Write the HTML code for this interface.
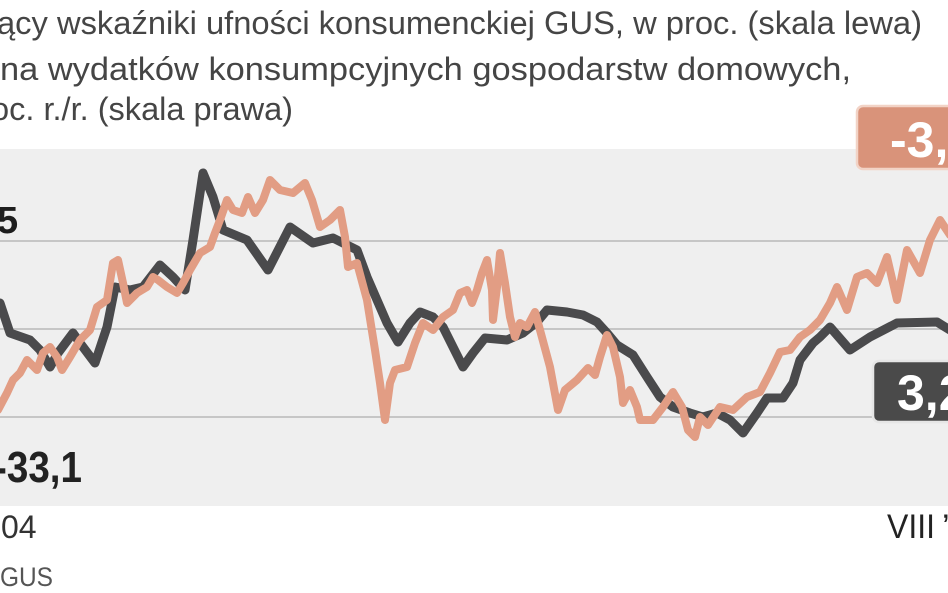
<!DOCTYPE html>
<html>
<head>
<meta charset="utf-8">
<style>
  html, body { margin:0; padding:0; background:#ffffff; }
  body { width:948px; height:593px; overflow:hidden; }
  svg { display:block; }
  .t { font-family: "Liberation Sans", "DejaVu Sans", sans-serif; }
</style>
</head>
<body>
<svg width="948" height="593" viewBox="0 0 948 593" xmlns="http://www.w3.org/2000/svg">
  <rect x="0" y="0" width="948" height="593" fill="#ffffff"/>

  <!-- Title lines -->
  <text class="t" x="-3" y="34" font-size="32" fill="#454545" textLength="925" lengthAdjust="spacingAndGlyphs">ący wskaźniki ufności konsumenckiej GUS, w proc. (skala lewa)</text>
  <text class="t" x="0" y="80" font-size="32" fill="#454545" textLength="851" lengthAdjust="spacingAndGlyphs">na wydatków konsumpcyjnych gospodarstw domowych,</text>
  <text class="t" x="-9" y="120" font-size="32" fill="#454545" textLength="302" lengthAdjust="spacingAndGlyphs">oc. r./r. (skala prawa)</text>

  <!-- Plot background -->
  <rect x="0" y="149" width="948" height="357" fill="#efefef"/>
  <!-- Gridlines -->
  <line x1="0" y1="241" x2="948" y2="241" stroke="#c6c6c6" stroke-width="2"/>
  <line x1="0" y1="329" x2="948" y2="329" stroke="#c6c6c6" stroke-width="2"/>
  <line x1="0" y1="417" x2="948" y2="417" stroke="#c6c6c6" stroke-width="2"/>

  <!-- Dark series -->
  <polyline fill="none" stroke="#4a4a4c" stroke-width="9" stroke-linejoin="round" stroke-linecap="round"
    points="0,303 10,333 30,340 40,350 50,367 58,353 73,333 80,343 95,363 107,327 115,287 130,290 143,287 160,265 173,277 185,290 193,240 203,173 213,197 223,230 247,240 268,270 290,227 313,243 333,238 343,243 357,250 367,277 377,300 387,323 398,342 410,323 420,312 433,317 443,327 453,347 463,367 473,353 485,338 507,340 523,333 537,322 547,310 567,312 583,315 597,322 607,333 617,345 633,355 647,377 660,397 673,407 690,413 703,417 717,413 730,420 743,433 757,413 767,398 783,398 793,383 800,360 813,343 820,337 830,327 850,350 870,337 897,323 937,322 950,330"/>

  <!-- Salmon series -->
  <polyline fill="none" stroke="#e29d84" stroke-width="8" stroke-linejoin="round" stroke-linecap="round"
    points="-2,410 7,393 13,380 20,373 27,360 37,370 43,353 50,347 57,357 62,370 70,357 80,340 90,330 97,307 107,300 113,263 118,260 123,283 127,303 137,293 147,287 153,277 158,280 167,287 177,293 183,283 190,270 200,253 210,247 215,233 220,220 227,200 233,210 242,213 248,197 255,213 263,200 270,180 280,190 293,193 305,183 312,200 320,227 330,220 340,210 345,237 348,267 357,263 367,300 375,350 380,383 385,420 390,383 395,370 407,367 415,343 423,323 433,330 443,317 453,310 460,293 467,290 472,303 477,290 482,273 487,260 492,290 493,320 497,287 500,253 505,283 510,317 515,337 520,323 527,327 535,312 540,330 550,367 558,410 565,390 577,380 588,368 595,375 600,357 607,335 613,347 620,377 623,403 630,390 637,407 640,420 653,420 663,407 673,392 682,407 688,430 695,437 700,417 708,425 720,407 733,410 747,397 760,392 770,373 780,352 790,350 800,337 810,330 820,320 830,303 837,287 847,310 857,277 867,273 877,283 887,257 897,300 907,250 920,273 930,240 940,220 950,235"/>

  <!-- Left labels -->
  <text class="t" x="-3" y="233" font-size="38" font-weight="bold" fill="#1e1e1e">5</text>
  <text class="t" x="-6" y="482" font-size="44" font-weight="bold" fill="#222222" textLength="88" lengthAdjust="spacingAndGlyphs">-33,1</text>

  <!-- Axis labels -->
  <text class="t" x="1" y="538" font-size="32" fill="#333333">04</text>
  <text class="t" x="0" y="586" font-size="27" fill="#555555" textLength="53" lengthAdjust="spacingAndGlyphs">GUS</text>
  <text class="t" x="887" y="538" font-size="34" fill="#222222" textLength="48" lengthAdjust="spacingAndGlyphs">VIII</text>
  <text class="t" x="942" y="538" font-size="34" fill="#222222">’1</text>

  <!-- Salmon value box -->
  <rect x="857" y="106" width="110" height="63" rx="6" ry="6" fill="#d9937a" stroke="#f2d3c6" stroke-width="2.5"/>
  <text class="t" x="890" y="157" font-size="50" font-weight="bold" fill="#ffffff">-3,4</text>

  <!-- Dark value box -->
  <rect x="873" y="361" width="100" height="61" rx="6" ry="6" fill="#4a4a4a" stroke="#e6e6e6" stroke-width="2.5"/>
  <text class="t" x="897" y="410" font-size="50" font-weight="bold" fill="#ffffff">3,2</text>
</svg>
</body>
</html>
